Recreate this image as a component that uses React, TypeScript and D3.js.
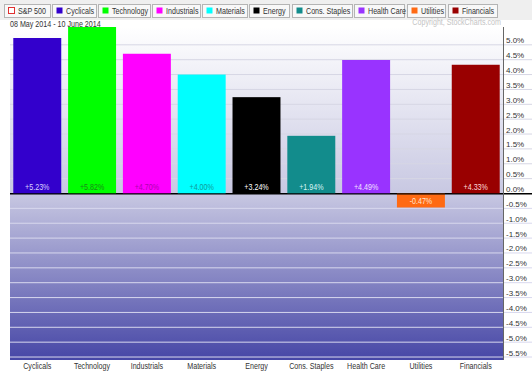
import React from "react";
import * as d3 from "d3";

const categories = ["Cyclicals", "Technology", "Industrials", "Materials", "Energy", "Cons. Staples", "Health Care", "Utilities", "Financials"];
const values = [5.23, 5.82, 4.70, 4.00, 3.24, 1.94, 4.49, -0.47, 4.33];
const barColors = ["#3300cc", "#00ff00", "#ff00ff", "#00ffff", "#000000", "#128c8c", "#9933ff", "#ff6a13", "#990000"];
const labelColors = ["#d8d0ff", "#1a8a1a", "#b000b0", "#109a9a", "#ffffff", "#d8f4f4", "#f0e0ff", "#ffe6d0", "#ffd8d8"];
const legendNames = ["S&P 500", ...categories];
const legendColors = ["none", ...barColors];
const tickValues = [5.0, 4.5, 4.0, 3.5, 3.0, 2.5, 2.0, 1.5, 1.0, 0.5, 0.0, -0.5, -1.0, -1.5, -2.0, -2.5, -3.0, -3.5, -4.0, -4.5, -5.0, -5.5];
const legendX = [4, 52, 98, 152, 202, 249, 292, 354, 407, 448];
const legendW = [46, 44, 52, 48, 45, 40, 60, 50, 38, 49];

const W = 532, H = 376;
const plotL = 10, plotR = 503, plotT = 27, plotB = 360;
const font = "'Liberation Sans', Arial, sans-serif";
const SX = 0.84;

function NText(props: { x: number; y: number; size?: number; fill: string; anchor?: string; children: React.ReactNode }) {
  const { x, y, size = 8.5, fill, anchor = "start", children } = props;
  return (
    <text transform={`translate(${x},${y}) scale(${SX},1)`} fontSize={size} fill={fill} textAnchor={anchor}>
      {children}
    </text>
  );
}

export default function App() {
  const x = d3.scaleBand<string>().domain(categories).range([plotL, plotR]).paddingInner(0.125).paddingOuter(0.06);
  const y = d3.scaleLinear().domain([-5.6, 5.6]).range([plotB, plotT]);
  const y0 = y(0);
  return (
    <svg width={W} height={H} style={{ position: "absolute", left: 0, top: 0, background: "#fff" }} fontFamily={font}>
      <defs>
        <linearGradient id="bg" x1="0" y1="0" x2="0" y2="1">
          <stop offset="0" stopColor="#ffffff" />
          <stop offset="0.5" stopColor="#c8c8e2" />
          <stop offset="1" stopColor="#4646a6" />
        </linearGradient>
        <clipPath id="plotClip">
          <rect x={plotL} y={plotT} width={plotR - plotL} height={plotB - plotT} />
        </clipPath>
      </defs>
      <rect x={0} y={0} width={W} height={20} fill="#efefef" />
      {legendNames.map((n, i) => (
        <g key={n} transform={`translate(${legendX[i]},4)`}>
          <rect x={0.5} y={0.5} width={legendW[i]} height={13} fill="#f8f8f8" stroke="#b4b4b4" />
          <rect x={4.5} y={3.5} width={6} height={6} fill={i === 0 ? "#ffffff" : legendColors[i]} stroke={i === 0 ? "#e03030" : "none"} />
          <NText x={14} y={10} fill="#333">{n}</NText>
        </g>
      ))}
      <rect x={plotL} y={plotT} width={plotR - plotL} height={plotB - plotT} fill="url(#bg)" />
      {tickValues.map((t) => (
        <g key={t}>
          <line x1={plotL} x2={W} y1={y(t)} y2={y(t)} stroke={t === 0 ? "#000" : (t > 0 ? "#d6d6e4" : "#d8d8ee")} strokeWidth={1} />
          <text x={506} y={y(t) - 1.5} fontSize={8} fill="#333">{t.toFixed(1) + "%"}</text>
        </g>
      ))}
      <NText x={10} y={27} fill="#333">08 May 2014 - 10 June 2014</NText>
      <NText x={501} y={25} fill="#c4c4c4" anchor="end">Copyright, StockCharts.com</NText>
      <g clipPath="url(#plotClip)">
        {categories.map((c, i) => {
          const v = values[i];
          const top = y(Math.max(0, v));
          const bot = y(Math.min(0, v));
          return <rect key={c} x={x(c)} y={top} width={x.bandwidth()} height={bot - top} fill={barColors[i]} />;
        })}
      </g>
      <line x1={plotL} x2={W} y1={y0 + 0.5} y2={y0 + 0.5} stroke="#000" />
      <line x1={plotR + 0.5} x2={plotR + 0.5} y1={plotT} y2={plotB} stroke="#666" />
      {categories.map((c, i) => {
        const v = values[i];
        const cx = (x(c) as number) + x.bandwidth() / 2;
        const ty = v >= 0 ? y0 - 4 : y0 + 10;
        return (
          <NText key={c} x={cx} y={ty} fill={labelColors[i]} anchor="middle">
            {(v >= 0 ? "+" : "") + v.toFixed(2) + "%"}
          </NText>
        );
      })}
      {categories.map((c) => (
        <NText key={c} x={(x(c) as number) + x.bandwidth() / 2} y={369} fill="#333" anchor="middle">{c}</NText>
      ))}
    </svg>
  );
}
